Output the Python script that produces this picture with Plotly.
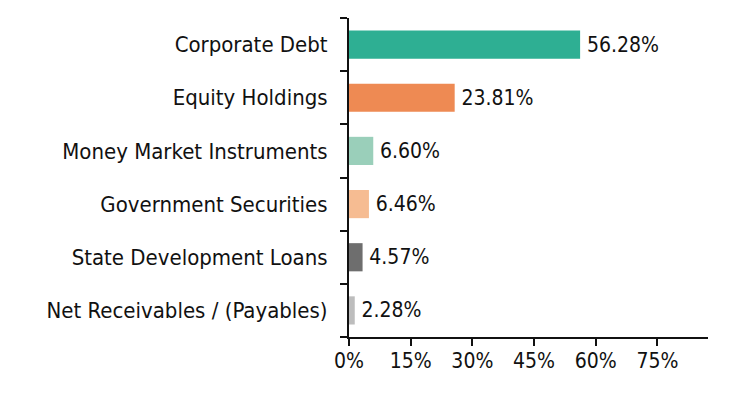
import plotly.graph_objects as go

categories = ["Corporate Debt", "Equity Holdings", "Money Market Instruments",
              "Government Securities", "State Development Loans", "Net Receivables / (Payables)"]
# percentages printed on the chart
label_values = [56.28, 23.81, 6.60, 6.46, 4.57, 2.28]
# bar lengths as drawn in the reference
bar_values = [56.2, 25.7, 5.9, 4.85, 3.3, 1.4]
colors = ["#2EAF93", "#EE8A53", "#9ACFBA", "#F6BC92", "#6E6E6E", "#BDBDBD"]
tick_vals = [0, 15, 30, 45, 60, 75]
tick_text = ["0%", "15%", "30%", "45%", "60%", "75%"]

FONT = "DejaVu Sans Condensed, DejaVu Sans"

fig = go.Figure(go.Bar(
    x=bar_values, y=categories, orientation="h",
    marker=dict(color=colors, line=dict(width=0)),
    text=[f"\u2009{v:.2f}%" for v in label_values], textposition="outside",
    textfont=dict(family=FONT, size=21, color="#111"),
    cliponaxis=False, hoverinfo="skip",
))
fig.update_layout(
    width=737, height=394,
    margin=dict(l=341, r=37, t=10, b=65),
    plot_bgcolor="white", paper_bgcolor="white",
    bargap=0.47, showlegend=False,
    font=dict(family=FONT, size=22, color="#111"),
)
fig.update_xaxes(range=[0, 87.3], tickvals=tick_vals, ticktext=tick_text, automargin=False,
                 showgrid=False, zeroline=False, showline=True, linecolor="#111", linewidth=2,
                 ticks="outside", ticklen=7, tickwidth=2, tickcolor="#111",
                 ticklabelstandoff=-3,
                 tickfont=dict(family=FONT, size=21, color="#111"))
fig.update_yaxes(categoryorder="array", categoryarray=categories[::-1], automargin=False,
                 showgrid=False, zeroline=False, showline=True, linecolor="#111", linewidth=2,
                 ticks="outside", ticklen=7, tickwidth=2, tickcolor="#111", tickson="boundaries",
                 ticklabelstandoff=15,
                 tickfont=dict(family=FONT, size=22, color="#111"))
fig.write_html("out.html")
